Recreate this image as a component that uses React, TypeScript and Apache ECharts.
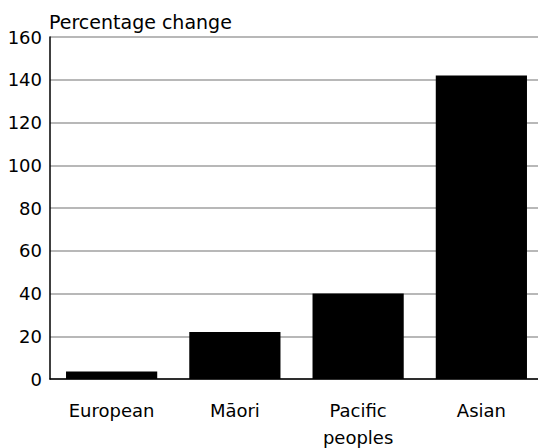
import React, { useEffect, useRef } from "react";
import * as echarts from "echarts";

const categories = ["European", "Māori", "Pacific\npeoples", "Asian"];
const values = [3.5, 22, 40, 142];
const yMin = 0;
const yMax = 160;
const yInterval = 20;
const yTitle = "Percentage change";

const FONT = "DejaVu Sans, Liberation Sans, Arial, sans-serif";

export default function App() {
  const ref = useRef<HTMLDivElement>(null);
  useEffect(() => {
    const chart = echarts.init(ref.current!, null, { renderer: "svg" });
    chart.setOption({
      animation: false,
      backgroundColor: "#ffffff",
      textStyle: { fontFamily: FONT },
      grid: { left: 50, right: -5, top: 37, bottom: 69, outerBoundsMode: "none", containLabel: false },
      graphic: [
        {
          type: "text",
          x: 49,
          y: 22,
          style: {
            text: yTitle,
            fontSize: 19,
            fontFamily: FONT,
            fill: "#000",
            textVerticalAlign: "middle",
            verticalAlign: "middle",
          },
        },
      ],
      xAxis: {
        type: "category",
        data: categories,
        axisLine: { show: true, lineStyle: { color: "#000", width: 1.5 } },
        axisTick: { show: false },
        axisLabel: { color: "#000", fontSize: 18, margin: 18, lineHeight: 27, interval: 0, fontFamily: FONT },
      },
      yAxis: {
        type: "value",
        min: yMin,
        max: yMax,
        interval: yInterval,
        axisLine: { show: true, lineStyle: { color: "#000", width: 1.5 } },
        axisTick: { show: false },
        axisLabel: { color: "#000", fontSize: 18, margin: 8, fontFamily: FONT },
        splitLine: { show: true, lineStyle: { color: "#a0a0a0", width: 1.5 } },
      },
      series: [
        {
          type: "bar",
          data: values,
          barCategoryGap: "26%",
          itemStyle: { color: "#000" },
        },
      ],
    });
    return () => chart.dispose();
  }, []);
  return (
    <div
      ref={ref}
      style={{ position: "absolute", left: 0, top: 0, width: 538, height: 448 }}
    />
  );
}
